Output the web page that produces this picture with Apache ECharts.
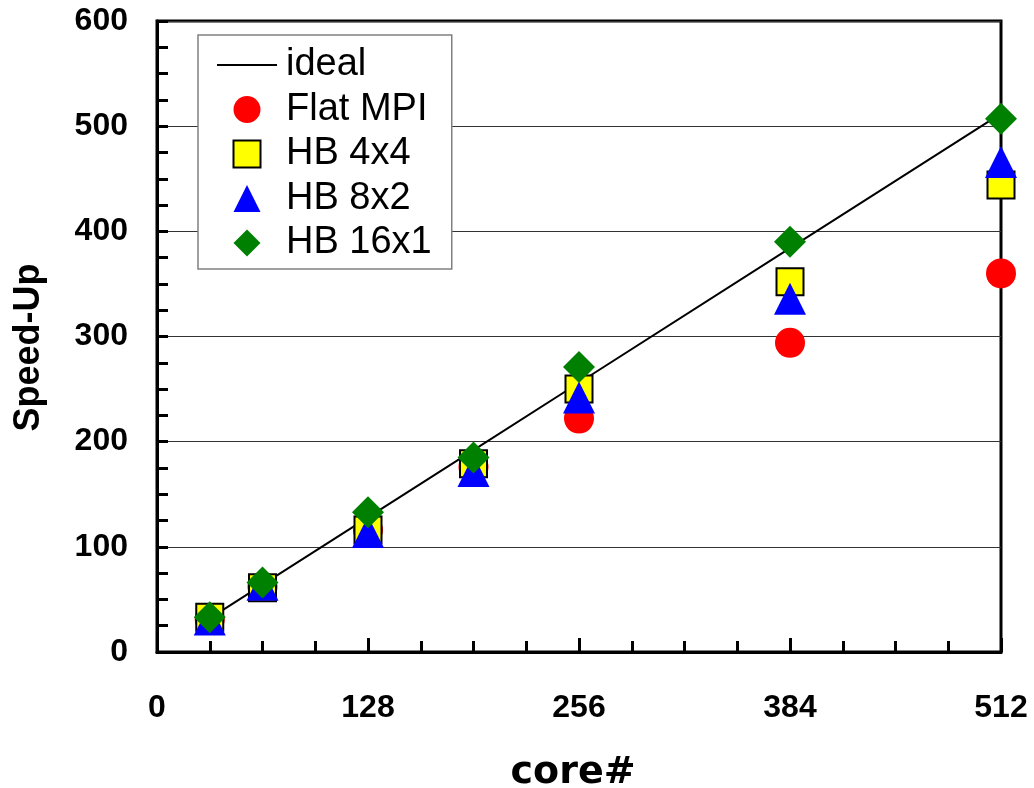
<!DOCTYPE html>
<html>
<head>
<meta charset="utf-8">
<script src="https://cdn.jsdelivr.net/npm/echarts@6/dist/echarts.min.js"></script>
<style>
html,body{margin:0;padding:0;background:#fff;}
#chart{width:1034px;height:788px;}
</style>
</head>
<body>
<div id="chart"></div>
<script>
const cores  = [32, 64, 128, 192, 256, 384, 512];
const ideal  = [32, 64, 128, 192, 256, 384, 512];
const flatMPI = [31, 62, 116, 176, 222, 294, 360];
const hb4x4  = [33, 61, 116, 179, 250, 352, 444];
const hb8x2  = [31, 64, 114, 172, 242, 336, 466];
const hb16x1 = [33, 66, 133, 185, 271, 390, 507];
const xTicks = [0, 128, 256, 384, 512];
const yTicks = [0, 100, 200, 300, 400, 500, 600];
const seriesNames = ['ideal', 'Flat MPI', 'HB 4x4', 'HB 8x2', 'HB 16x1'];

const pts = arr => cores.map((c, i) => [c, arr[i]]);

const chart = echarts.init(document.getElementById('chart'), null, {renderer: 'canvas'});
const tickFont = {fontFamily: 'Liberation Sans', fontWeight: 'bold', fontSize: 32, color: '#000'};

chart.setOption({
  animation: false,
  backgroundColor: '#fff',
  grid: {left: 157, right: 33, top: 21, bottom: 136, show: true, borderColor: '#000', borderWidth: 3,
         backgroundColor: 'transparent', outerBoundsMode: 'none', containLabel: false},
  legend: {
    data: [
      {name: seriesNames[0], icon: 'path://M0,0H60V2H0Z', itemStyle: {color: '#000'}},
      {name: seriesNames[1], icon: 'path://M13.5,0A13.5,13.5,0,1,1,13.49,0Z'},
      {name: seriesNames[2], icon: 'path://M0,0H27V27H0Z'},
      {name: seriesNames[3], icon: 'path://M13.5,0L27,27H0Z'},
      {name: seriesNames[4], icon: 'path://M13.5,0L27,13.5L13.5,27L0,13.5Z'}
    ],
    orient: 'vertical',
    left: 198, top: 35,
    padding: [11, 20, 7, 19],
    itemGap: 6.5,
    itemWidth: 60,
    itemHeight: 27,
    symbolKeepAspect: true,
    backgroundColor: '#fff',
    borderColor: '#808080',
    borderWidth: 1.5,
    borderRadius: 0,
    textStyle: {fontFamily: 'Liberation Sans', fontSize: 38, color: '#000', lineHeight: 34, padding: [0, 0, 0, 4]}
  },
  xAxis: {
    type: 'value', min: xTicks[0], max: xTicks[xTicks.length - 1], interval: 128,
    name: 'core#', nameLocation: 'middle', nameGap: 102,
    nameTextStyle: {fontFamily: 'DejaVu Sans', fontWeight: 'bold', fontSize: 38, color: '#000', padding: [0, 12, 0, 0]},
    axisLine: {show: true, onZero: false, lineStyle: {color: '#000', width: 3}},
    axisTick: {show: true, inside: true, length: 14, lineStyle: {color: '#000', width: 3}},
    minorTick: {show: true, splitNumber: 4, length: 11, lineStyle: {color: '#000', width: 3}},
    axisLabel: Object.assign({margin: 40}, tickFont),
    splitLine: {show: false}
  },
  yAxis: {
    type: 'value', min: yTicks[0], max: yTicks[yTicks.length - 1], interval: 100,
    name: 'Speed-Up', nameLocation: 'middle', nameGap: 110, nameRotate: 90,
    nameTextStyle: {fontFamily: 'Liberation Sans', fontWeight: 'bold', fontSize: 36, color: '#000', padding: [0, 22, 0, 0]},
    axisLine: {show: true, onZero: false, lineStyle: {color: '#000', width: 3}},
    axisTick: {show: true, inside: true, length: 11, lineStyle: {color: '#000', width: 3}},
    minorTick: {show: true, splitNumber: 4, length: 11, lineStyle: {color: '#000', width: 3}},
    axisLabel: Object.assign({margin: 29}, tickFont),
    splitLine: {show: true, lineStyle: {color: '#333', width: 1}}
  },
  series: [
    {name: seriesNames[0], type: 'line', data: pts(ideal), symbol: 'none', z: 1,
     lineStyle: {color: '#000', width: 2}, itemStyle: {color: '#000'}},
    {name: seriesNames[1], type: 'scatter', data: pts(flatMPI), symbol: 'circle', symbolSize: 30, z: 2,
     itemStyle: {color: '#ff0000', opacity: 1}},
    {name: seriesNames[2], type: 'scatter', data: pts(hb4x4), symbol: 'rect', symbolSize: 27, z: 3,
     itemStyle: {color: '#ffff00', borderColor: '#000', borderWidth: 2, opacity: 1}},
    {name: seriesNames[3], type: 'scatter', data: pts(hb8x2), symbol: 'triangle', symbolSize: 32, z: 4,
     itemStyle: {color: '#0000ff', opacity: 1}},
    {name: seriesNames[4], type: 'scatter', data: pts(hb16x1), symbol: 'diamond', symbolSize: 32, z: 5,
     itemStyle: {color: '#008000', opacity: 1}}
  ]
});
</script>
</body>
</html>
